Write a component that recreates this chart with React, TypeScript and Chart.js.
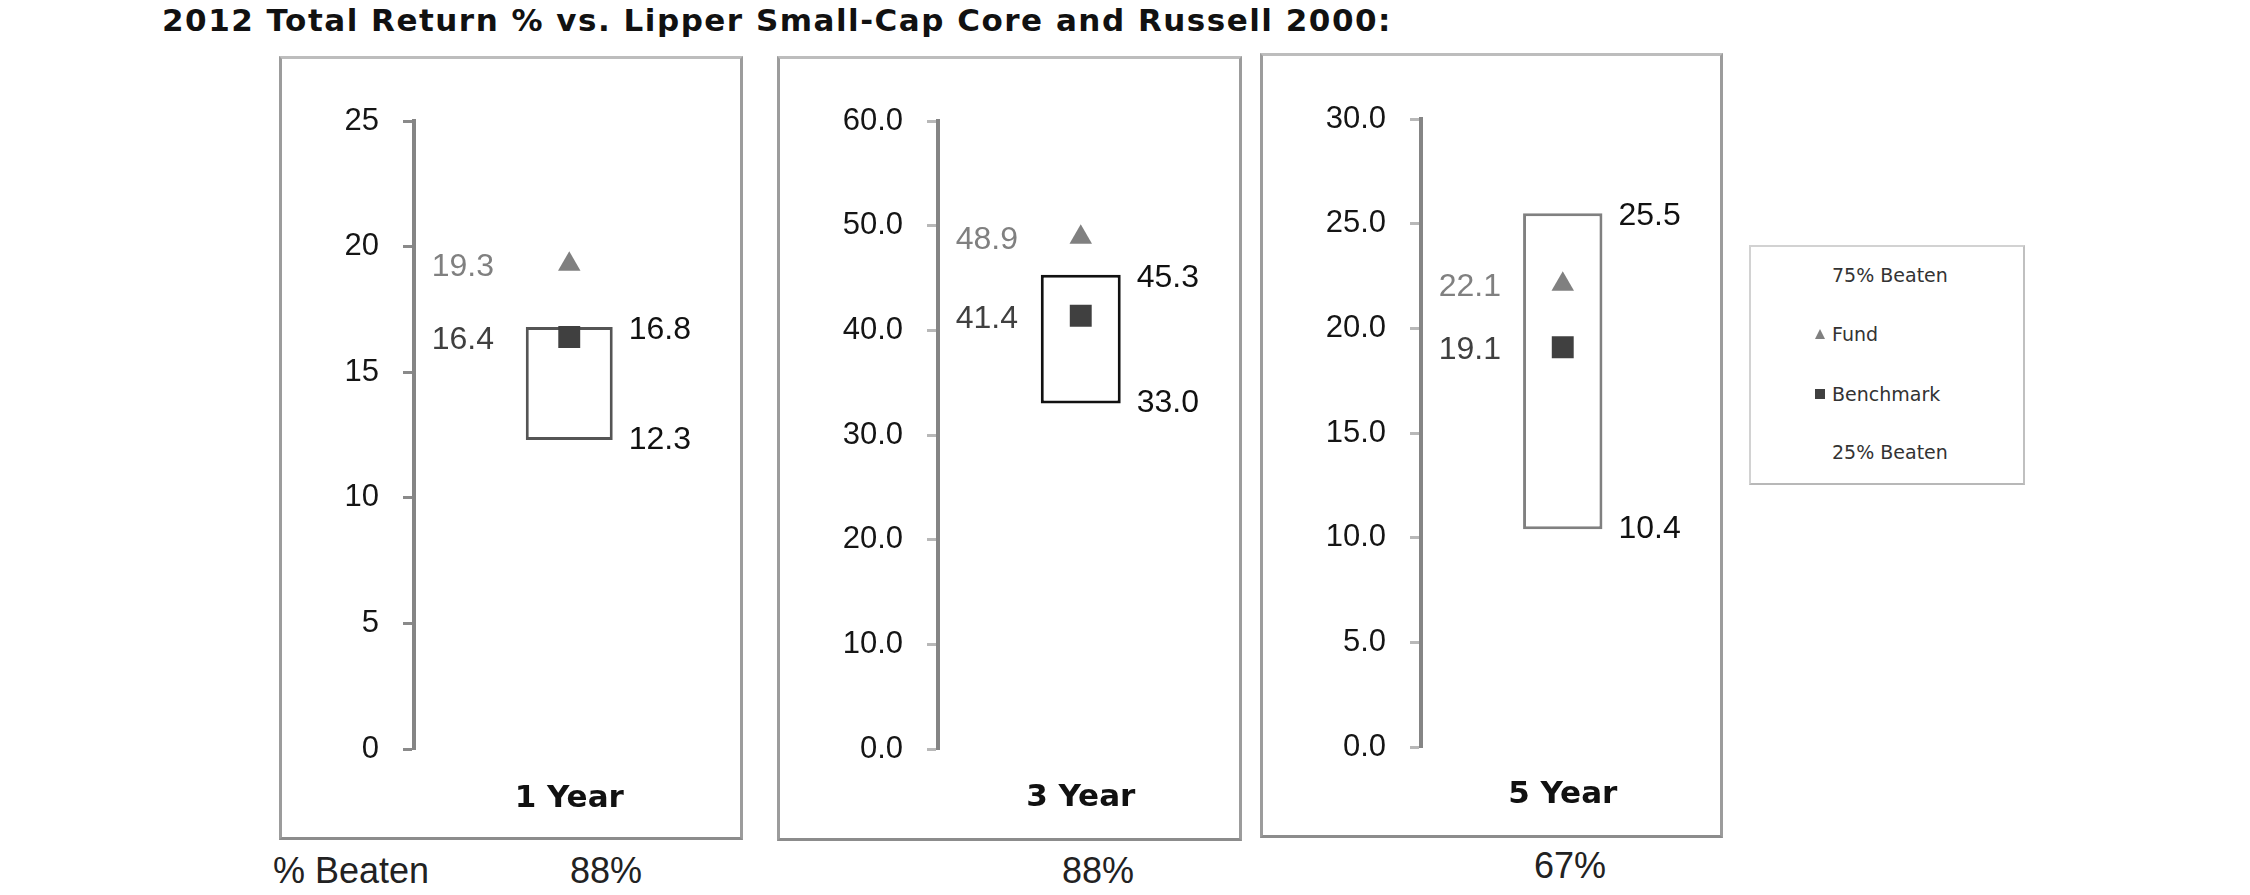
import React, { useEffect, useRef } from "react";
import { Chart, registerables } from "chart.js";

Chart.register(...registerables);

// ---- Data ----
const titleText = "2012 Total Return % vs. Lipper Small-Cap Core and Russell 2000:";
const periods = ["1 Year", "3 Year", "5 Year"];
const fundReturns = [19.3, 48.9, 22.1];
const benchmarkReturns = [16.4, 41.4, 19.1];
const beaten75 = [16.8, 45.3, 25.5];
const beaten25 = [12.3, 33.0, 10.4];
const percentBeaten = ["88%", "88%", "67%"];
const axisMax = [25, 60, 30];
const axisStep = [5, 10, 5];
const tickDecimals = [0, 1, 1];
const legendItems = ["75% Beaten", "Fund", "Benchmark", "25% Beaten"];

// ---- Styles / layout ----
const FUND_COLOR = "#808080";
const BENCH_COLOR = "#404040";
const NUM_FONT = '"Liberation Sans", Arial, sans-serif';
const BOLD_FONT = '"DejaVu Sans", Verdana, sans-serif';

const panelLayouts = [
  { left: 279, top: 56, width: 464, height: 784, yWidth: 132, padTop: 62, xHeight: 88, xPad: 31, padRight: 0, boxColor: "#555555", tickColor: "#8a8a8a", beatenX: 606, beatenY: 871 },
  { left: 777, top: 56, width: 465, height: 785, yWidth: 158, padTop: 62, xHeight: 89, xPad: 30, padRight: 3, boxColor: "#111111", tickColor: "#b8b8b8", beatenX: 1098, beatenY: 871 },
  { left: 1260, top: 53, width: 463, height: 785, yWidth: 158, padTop: 63, xHeight: 88, xPad: 29, padRight: 3, boxColor: "#808080", tickColor: "#b8b8b8", beatenX: 1570, beatenY: 866 },
];
const BORDER = 3;

const valueLabelPlugin = {
  id: "valueLabels",
  afterDatasetsDraw(chart: any, _args: any, opts: any) {
    const { ctx, chartArea } = chart;
    const y = chart.scales.y;
    const bar = chart.getDatasetMeta(0).data[0];
    if (!bar) return;
    const props = bar.getProps(["x", "width"], true);
    const rightX = props.x + props.width / 2 + 16;
    const leftX = chartArea.left + 80;
    ctx.save();
    ctx.font = `32px ${NUM_FONT}`;
    ctx.textBaseline = "middle";
    ctx.textAlign = "right";
    ctx.fillStyle = FUND_COLOR;
    ctx.fillText(opts.fund.toFixed(1), leftX, y.getPixelForValue(opts.fund) + 3);
    ctx.fillStyle = BENCH_COLOR;
    ctx.fillText(opts.bench.toFixed(1), leftX, y.getPixelForValue(opts.bench) + 3);
    ctx.textAlign = "left";
    ctx.fillStyle = "#111111";
    ctx.fillText(opts.p75.toFixed(1), rightX, y.getPixelForValue(opts.p75) + 3);
    ctx.fillText(opts.p25.toFixed(1), rightX, y.getPixelForValue(opts.p25));
    ctx.restore();
  },
};

function Panel({ i }: { i: number }) {
  const ref = useRef<HTMLCanvasElement | null>(null);
  const L = panelLayouts[i];
  const cw = L.width - 2 * BORDER;
  const ch = L.height - 2 * BORDER;

  useEffect(() => {
    if (!ref.current) return;
    const chart = new Chart(ref.current, {
      type: "bar",
      data: {
        labels: [periods[i]],
        datasets: [
          {
            type: "bar",
            label: "Range",
            data: [[beaten25[i], beaten75[i]]] as any,
            backgroundColor: "#ffffff",
            borderColor: L.boxColor,
            borderWidth: 3,
            borderSkipped: false,
            barPercentage: 0.28,
            categoryPercentage: 1,
            order: 3,
          },
          {
            type: "line",
            label: "Fund",
            data: [fundReturns[i]],
            showLine: false,
            pointStyle: "triangle",
            pointRadius: 13,
            pointBorderWidth: 0,
            pointBackgroundColor: FUND_COLOR,
            pointBorderColor: FUND_COLOR,
            order: 1,
          },
          {
            type: "line",
            label: "Benchmark",
            data: [benchmarkReturns[i]],
            showLine: false,
            pointStyle: "rect",
            pointRadius: 15.5,
            pointBorderWidth: 0,
            pointBackgroundColor: BENCH_COLOR,
            pointBorderColor: BENCH_COLOR,
            order: 2,
          },
        ],
      },
      options: {
        animation: false,
        responsive: false,
        devicePixelRatio: 1,
        layout: { padding: { top: L.padTop, right: L.padRight, left: 0, bottom: 0 } },
        plugins: {
          legend: { display: false },
          tooltip: { enabled: false },
          valueLabels: { fund: fundReturns[i], bench: benchmarkReturns[i], p75: beaten75[i], p25: beaten25[i] },
        } as any,
        scales: {
          x: {
            ticks: {
              font: { family: BOLD_FONT, weight: "bold", size: 31, lineHeight: 1.2 },
              color: "#111111",
              padding: L.xPad,
            },
            grid: { display: false, drawTicks: false },
            border: { display: false },
            afterFit: (s: any) => {
              s.height = L.xHeight;
            },
          },
          y: {
            min: 0,
            max: axisMax[i],
            ticks: {
              stepSize: axisStep[i],
              callback: (v: any) => Number(v).toFixed(tickDecimals[i]),
              font: { family: NUM_FONT, size: 31 },
              color: "#151515",
              padding: 24,
            },
            grid: {
              display: true,
              drawOnChartArea: false,
              drawTicks: true,
              tickLength: 11,
              tickColor: L.tickColor,
              tickWidth: 3,
            },
            border: { display: true, color: "#858585", width: 4 },
            afterFit: (s: any) => {
              s.width = L.yWidth;
            },
          },
        },
      } as any,
      plugins: [valueLabelPlugin],
    });
    return () => chart.destroy();
  }, [i]);

  return (
    <>
      <div
        style={{
          position: "absolute",
          left: L.left,
          top: L.top,
          width: L.width,
          height: L.height,
          boxSizing: "border-box",
          borderStyle: "solid",
          borderWidth: BORDER,
          borderTopColor: "#bdbdbd",
          borderLeftColor: "#9c9c9c",
          borderRightColor: "#9c9c9c",
          borderBottomColor: "#8c8c8c",
          background: "#ffffff",
        }}
      >
        <canvas ref={ref} width={cw} height={ch} style={{ display: "block", width: cw, height: ch }} />
      </div>
      <div
        style={{
          position: "absolute",
          left: L.beatenX,
          top: L.beatenY - 21,
          transform: "translateX(-50%)",
          font: `36px ${NUM_FONT}`,
          lineHeight: "42px",
          color: "#222222",
          whiteSpace: "nowrap",
        }}
      >
        {percentBeaten[i]}
      </div>
    </>
  );
}

function Legend() {
  const textStyle: React.CSSProperties = {
    position: "absolute",
    left: 1832,
    font: `19px ${BOLD_FONT}`,
    lineHeight: "24px",
    color: "#333333",
    whiteSpace: "nowrap",
  };
  const rows = [275, 334, 394, 452];
  return (
    <>
      <div
        style={{
          position: "absolute",
          left: 1749,
          top: 245,
          width: 276,
          height: 240,
          boxSizing: "border-box",
          border: "2px solid #d2d2d2",
          borderRightColor: "#c0c0c0",
          borderBottomColor: "#b8b8b8",
          background: "#ffffff",
        }}
      />
      {legendItems.map((t, k) => (
        <div key={t} style={{ ...textStyle, top: rows[k] - 12 }}>
          {t}
        </div>
      ))}
      <div
        style={{
          position: "absolute",
          left: 1815,
          top: rows[1] - 5,
          width: 0,
          height: 0,
          borderLeft: "5px solid transparent",
          borderRight: "5px solid transparent",
          borderBottom: `10px solid ${FUND_COLOR}`,
        }}
      />
      <div
        style={{
          position: "absolute",
          left: 1815,
          top: rows[2] - 5,
          width: 10,
          height: 10,
          background: BENCH_COLOR,
        }}
      />
    </>
  );
}

export default function App() {
  return (
    <div
      style={{
        position: "absolute",
        left: 0,
        top: 0,
        width: 2250,
        height: 895,
        background: "#ffffff",
        overflow: "hidden",
      }}
    >
      <div
        style={{
          position: "absolute",
          left: 162,
          top: 2,
          font: `bold 31px ${BOLD_FONT}`,
          letterSpacing: "1.5px",
          lineHeight: "36px",
          color: "#111111",
          whiteSpace: "nowrap",
        }}
      >
        {titleText}
      </div>
      {periods.map((_, i) => (
        <Panel key={i} i={i} />
      ))}
      <div
        style={{
          position: "absolute",
          left: 273,
          top: 871 - 21,
          font: `36px ${NUM_FONT}`,
          lineHeight: "42px",
          color: "#222222",
          whiteSpace: "nowrap",
        }}
      >
        % Beaten
      </div>
      <Legend />
    </div>
  );
}
